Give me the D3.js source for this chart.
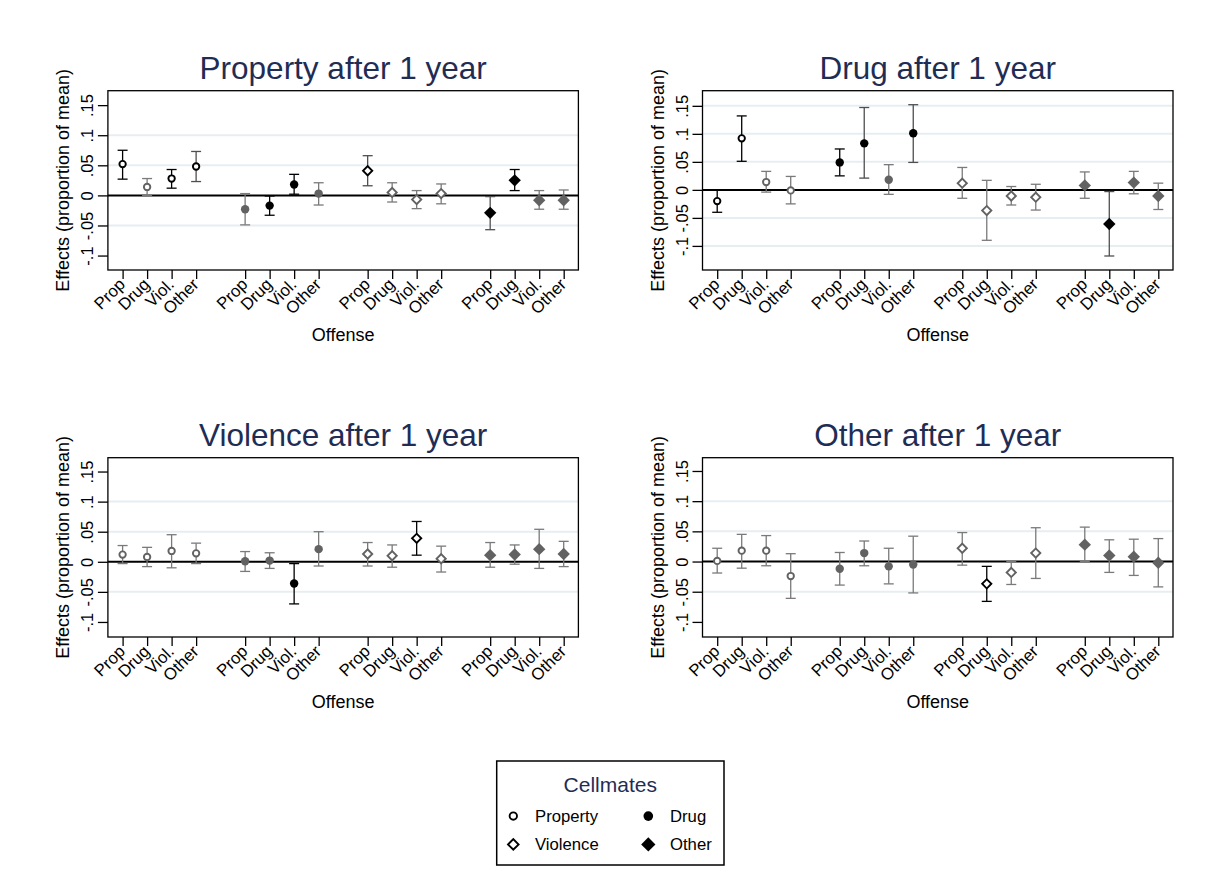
<!DOCTYPE html>
<html>
<head>
<meta charset="utf-8">
<script src="https://cdn.jsdelivr.net/npm/d3@7"></script>
<style>
  body { margin: 0; background: #fff; }
  text { font-family: "Liberation Sans", Arial, Helvetica, sans-serif; }
</style>
</head>
<body>
<div id="chart"></div>
<script>
// offense categories on the x axis (repeated for each cellmate group)
var offenses = ["Prop", "Drug", "Viol.", "Other"];
var cellmates = ["Property", "Drug", "Violence", "Other"];
var panelTitles = ["Property after 1 year", "Drug after 1 year", "Violence after 1 year", "Other after 1 year"];

var yTicks = [-0.1, -0.05, 0, 0.05, 0.1, 0.15];
var yTickLabels = ["-.1", "-.05", "0", ".05", ".1", ".15"];
// y axis range of each panel
var yRanges = [[-0.124, 0.174], [-0.143, 0.177], [-0.125, 0.173], [-0.125, 0.172]];
var gridValues = [[-0.05, 0.05, 0.1], [-0.1, -0.05, 0.05, 0.1, 0.15], [-0.05, 0.05, 0.1], [-0.05, 0.05, 0.1]];

// each panel: 16 estimates, order = cellmate group (Property, Drug, Violence, Other) x offense
var propEst = [0.052, 0.014, 0.028, 0.048,  -0.023, -0.017, 0.018, 0.003,  0.041, 0.005, -0.007, 0.003,  -0.029, 0.025, -0.008, -0.008];
var propLo  = [0.027, 0.000, 0.012, 0.023,  -0.049, -0.033, 0.002, -0.016, 0.016, -0.011, -0.022, -0.014, -0.057, 0.008, -0.023, -0.023];
var propHi  = [0.075, 0.028, 0.043, 0.073,  0.003, -0.001, 0.035, 0.021,   0.066, 0.021, 0.008, 0.019,    -0.002, 0.043, 0.008, 0.009];
var propSig = ["kk", "gg", "kk", "kd",  "gg", "kk", "kk", "gg",  "kd", "gg", "gg", "gg",  "kd", "kk", "gg", "gg"];

var drugEst = [-0.020, 0.092, 0.014, -0.001,  0.049, 0.083, 0.018, 0.101,  0.012, -0.037, -0.011, -0.013,  0.008, -0.061, 0.013, -0.011];
var drugLo  = [-0.040, 0.051, -0.004, -0.025, 0.025, 0.021, -0.008, 0.049, -0.015, -0.090, -0.027, -0.036, -0.015, -0.118, -0.007, -0.035];
var drugHi  = [0.000, 0.132, 0.033, 0.024,    0.073, 0.147, 0.045, 0.152,  0.040, 0.017, 0.006, 0.010,     0.032, -0.003, 0.033, 0.012];
var drugSig = ["kk", "kk", "gg", "gg",  "kk", "kd", "gg", "kd",  "gg", "gg", "gg", "gg",  "gg", "kd", "gg", "gg"];

var violEst = [0.012, 0.008, 0.018, 0.014,  0.001, 0.002, -0.036, 0.021,  0.013, 0.010, 0.039, 0.005,  0.011, 0.012, 0.021, 0.013];
var violLo  = [-0.003, -0.008, -0.010, -0.003, -0.016, -0.011, -0.070, -0.007, -0.007, -0.009, 0.011, -0.017, -0.009, -0.004, -0.011, -0.008];
var violHi  = [0.027, 0.024, 0.045, 0.031,  0.017, 0.015, -0.003, 0.050,  0.032, 0.028, 0.067, 0.026,  0.032, 0.028, 0.054, 0.034];
var violSig = ["gg", "gg", "gg", "gg",  "gg", "gg", "kk", "gg",  "gg", "gg", "kk", "gg",  "gg", "gg", "gg", "gg"];

var otherEst = [0.001, 0.018, 0.018, -0.024,  -0.012, 0.014, -0.008, -0.005,  0.022, -0.037, -0.018, 0.014,  0.028, 0.010, 0.008, -0.002];
var otherLo  = [-0.019, -0.011, -0.007, -0.061, -0.039, -0.007, -0.037, -0.052, -0.006, -0.066, -0.038, -0.028, 0.000, -0.018, -0.023, -0.042];
var otherHi  = [0.022, 0.045, 0.043, 0.013,   0.015, 0.034, 0.022, 0.042,    0.048, -0.008, 0.000, 0.056,    0.057, 0.036, 0.037, 0.038];
var otherSig = ["gg", "gg", "gg", "gg",  "gg", "gg", "gg", "gg",  "gg", "kk", "gg", "gg",  "gg", "gg", "gg", "gg"];

var panelData = [
  {est: propEst, lo: propLo, hi: propHi, sig: propSig},
  {est: drugEst, lo: drugLo, hi: drugHi, sig: drugSig},
  {est: violEst, lo: violLo, hi: violHi, sig: violSig},
  {est: otherEst, lo: otherLo, hi: otherHi, sig: otherSig}
];

var navy = "#1f2d55";
var markerColor = {k: "#000000", g: "#626262"};
var ciColor = {k: "#000000", d: "#4f4f4f", g: "#7a7a7a"};

var svg = d3.select("#chart")
  .append("svg")
    .attr("width", 1213)
    .attr("height", 882);

var boxW = 470.5, boxH = 179.3;
var originsX = [107.9, 702.5], originsY = [90.7, 457.7];

panelData.forEach(function(pd, p) {
  var ox = originsX[p % 2], oy = originsY[Math.floor(p / 2)];
  var g = svg.append("g").attr("transform", "translate(" + ox + "," + oy + ")");

  var x = d3.scaleLinear().domain([0.4, 19.6]).range([0, boxW]);
  var y = d3.scaleLinear().domain(yRanges[p]).range([boxH, 0]);

  // grid lines
  g.selectAll(".grid")
    .data(gridValues[p])
    .enter()
    .append("line")
      .attr("x1", 0).attr("x2", boxW)
      .attr("y1", function(d) { return y(d); })
      .attr("y2", function(d) { return y(d); })
      .attr("stroke", "#e7eef1")
      .attr("stroke-width", 2);

  // zero line
  g.append("line")
    .attr("x1", 0).attr("x2", boxW)
    .attr("y1", y(0)).attr("y2", y(0))
    .attr("stroke", "#000")
    .attr("stroke-width", 2);

  // y axis
  var yAxis = g.append("g")
    .call(d3.axisLeft(y).tickValues(yTicks).tickSize(10)
      .tickFormat(function(d, i) { return yTickLabels[i]; }));
  yAxis.select(".domain").remove();
  yAxis.selectAll(".tick line").attr("stroke", "#000").attr("stroke-width", 1.3);
  yAxis.selectAll(".tick text")
    .attr("transform", "rotate(-90)")
    .attr("x", 0)
    .attr("y", -15)
    .attr("dy", 0)
    .attr("text-anchor", "middle")
    .attr("font-size", 16.5)
    .attr("fill", "#000");

  // x axis
  var slots = [];
  for (var c = 0; c < 4; c++) {
    for (var o = 0; o < 4; o++) slots.push(c * 5 + o + 1);
  }
  var xAxis = g.append("g")
    .attr("transform", "translate(0," + boxH + ")")
    .call(d3.axisBottom(x).tickValues(slots).tickSize(9)
      .tickFormat(function(d, i) { return offenses[i % 4]; }));
  xAxis.select(".domain").remove();
  xAxis.selectAll(".tick line").attr("stroke", "#000").attr("stroke-width", 1.3);
  xAxis.selectAll(".tick text")
    .attr("text-anchor", "end")
    .attr("font-size", 16.8)
    .attr("fill", "#000")
    .attr("x", 0).attr("y", 0).attr("dy", 0)
    .attr("transform", "translate(3,15.5) rotate(-45)");

  // plot border
  g.append("rect")
    .attr("width", boxW).attr("height", boxH)
    .attr("fill", "none")
    .attr("stroke", "#000")
    .attr("stroke-width", 1.3);

  // confidence intervals
  var pts = pd.est.map(function(v, i) {
    return {pos: slots[i], est: v, lo: pd.lo[i], hi: pd.hi[i], sig: pd.sig[i], group: Math.floor(i / 4)};
  });
  var ci = g.selectAll(".ci").data(pts).enter().append("g")
    .attr("stroke", function(d) { return ciColor[d.sig[1]]; })
    .attr("stroke-width", 1.3);
  ci.append("line")
    .attr("x1", function(d) { return x(d.pos); }).attr("x2", function(d) { return x(d.pos); })
    .attr("y1", function(d) { return y(d.lo); }).attr("y2", function(d) { return y(d.hi); });
  ci.append("line")
    .attr("x1", function(d) { return x(d.pos) - 5; }).attr("x2", function(d) { return x(d.pos) + 5; })
    .attr("y1", function(d) { return y(d.lo); }).attr("y2", function(d) { return y(d.lo); });
  ci.append("line")
    .attr("x1", function(d) { return x(d.pos) - 5; }).attr("x2", function(d) { return x(d.pos) + 5; })
    .attr("y1", function(d) { return y(d.hi); }).attr("y2", function(d) { return y(d.hi); });

  // point estimates
  pts.forEach(function(d) {
    drawMarker(g, d.group, x(d.pos), y(d.est), markerColor[d.sig[0]], false);
  });

  // titles
  g.append("text")
    .attr("x", boxW / 2).attr("y", -11.5)
    .attr("text-anchor", "middle")
    .attr("font-size", 31.5)
    .attr("fill", navy)
    .text(panelTitles[p]);
  g.append("text")
    .attr("transform", "translate(-39," + boxH / 2 + ") rotate(-90)")
    .attr("text-anchor", "middle")
    .attr("font-size", 18)
    .attr("fill", "#000")
    .text("Effects (proportion of mean)");
  g.append("text")
    .attr("x", boxW / 2).attr("y", boxH + 71.5)
    .attr("text-anchor", "middle")
    .attr("font-size", 18)
    .attr("fill", "#000")
    .text("Offense");
});

// marker shapes: hollow circle, filled circle, hollow diamond, filled diamond
function drawMarker(sel, group, cx, cy, color, big) {
  var k = big ? 1.15 : 1;
  if (group === 0) {
    sel.append("circle").attr("cx", cx).attr("cy", cy).attr("r", 3.2 * k)
      .attr("fill", "#fff").attr("stroke", color).attr("stroke-width", 1.9);
  } else if (group === 1) {
    sel.append("circle").attr("cx", cx).attr("cy", cy).attr("r", 4.2 * k)
      .attr("fill", color);
  } else if (group === 2) {
    sel.append("path")
      .attr("d", d3.symbol(d3.symbolSquare).size(2 * 4.6 * 4.6 * k * k)())
      .attr("transform", "translate(" + cx + "," + cy + ") rotate(45)")
      .attr("fill", "#fff").attr("stroke", color).attr("stroke-width", 1.9);
  } else {
    sel.append("path")
      .attr("d", d3.symbol(d3.symbolSquare).size(2 * 6.2 * 6.2 * k * k)())
      .attr("transform", "translate(" + cx + "," + cy + ") rotate(45)")
      .attr("fill", color);
  }
}

// legend
var legend = svg.append("g").attr("transform", "translate(496.7,761)");
legend.append("rect")
  .attr("width", 227.3).attr("height", 104)
  .attr("fill", "#fff")
  .attr("stroke", "#000")
  .attr("stroke-width", 1.5);
legend.append("text")
  .attr("x", 113.6).attr("y", 31)
  .attr("text-anchor", "middle")
  .attr("font-size", 21)
  .attr("fill", navy)
  .text("Cellmates");
cellmates.forEach(function(name, i) {
  var lx = (i % 2 === 0) ? 16.6 : 151.6;
  var ly = (i < 2) ? 60.7 : 89;
  drawMarker(legend, i, lx, ly - 5.6, "#000", true);
  legend.append("text")
    .attr("x", lx + 21.7).attr("y", ly)
    .attr("font-size", 16.7)
    .attr("fill", "#000")
    .text(name);
});
</script>
</body>
</html>
